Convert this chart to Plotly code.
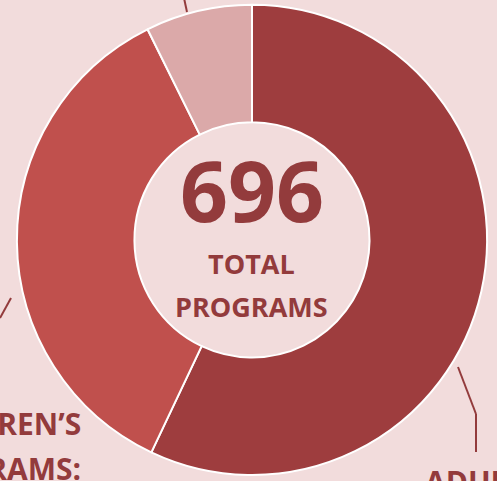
import plotly.graph_objects as go

categories = ["Adult Programs", "Children's Programs", "Other Programs"]
values = [397, 248, 51]
colors = ["#9E3D3E", "#C0504D", "#DBA9A9"]
total_label = "696"

BG = "#F2DCDC"
TXT = "#933B3C"

fig = go.Figure()
fig.add_trace(go.Pie(
    labels=categories, values=values, hole=0.5, sort=False,
    direction="clockwise", rotation=0,
    marker=dict(colors=colors, line=dict(color="white", width=2)),
    textinfo="none", hoverinfo="label+value", showlegend=False,
    domain=dict(x=[0.034, 0.980], y=[0.0125, 0.99]),
))

fig.add_annotation(x=0.507, y=0.607, xref="paper", yref="paper", text=f"<b>{total_label}</b>",
                   showarrow=False, font=dict(family="Open Sans", size=84, color=TXT),
                   xanchor="center", yanchor="middle")
fig.add_annotation(x=0.507, y=0.453, xref="paper", yref="paper", text="<b>TOTAL</b>",
                   showarrow=False, font=dict(family="Open Sans", size=27, color=TXT),
                   xanchor="center", yanchor="middle")
fig.add_annotation(x=0.507, y=0.362, xref="paper", yref="paper", text="<b>PROGRAMS</b>",
                   showarrow=False, font=dict(family="Open Sans", size=27, color=TXT),
                   xanchor="center", yanchor="middle")

# outside labels (partially cropped)
fig.add_annotation(x=83/497, y=1 - 423/481, xref="paper", yref="paper", text="<b>CHILDREN’S</b>",
                   showarrow=False, font=dict(family="Open Sans", size=30, color=TXT),
                   xanchor="right", yanchor="middle")
fig.add_annotation(x=83/497, y=1 - 468/481, xref="paper", yref="paper", text="<b>PROGRAMS:</b>",
                   showarrow=False, font=dict(family="Open Sans", size=30, color=TXT),
                   xanchor="right", yanchor="middle")
fig.add_annotation(x=423/497, y=1 - 481/481, xref="paper", yref="paper", text="<b>ADULT</b>",
                   showarrow=False, font=dict(family="Open Sans", size=30, color=TXT),
                   xanchor="left", yanchor="middle")

def px(x, y):
    return x / 497, 1 - y / 481

lines = [
    [(458, 367), (476, 414), (476, 452)],
    [(0, 318), (11, 298)],
    [(184, -2), (187, 12)],
]
for pts in lines:
    for (x0, y0), (x1, y1) in zip(pts[:-1], pts[1:]):
        a, b = px(x0, y0)
        c, d = px(x1, y1)
        fig.add_shape(type="line", xref="paper", yref="paper", x0=a, y0=b, x1=c, y1=d,
                      line=dict(color=TXT, width=2))

fig.update_layout(
    width=497, height=481, margin=dict(l=0, r=0, t=0, b=0),
    paper_bgcolor=BG, plot_bgcolor=BG,
)
fig.write_html("out.html", config={"displayModeBar": False},
               post_script="document.body.style.margin='0';document.body.style.background='#F2DCDC';")
